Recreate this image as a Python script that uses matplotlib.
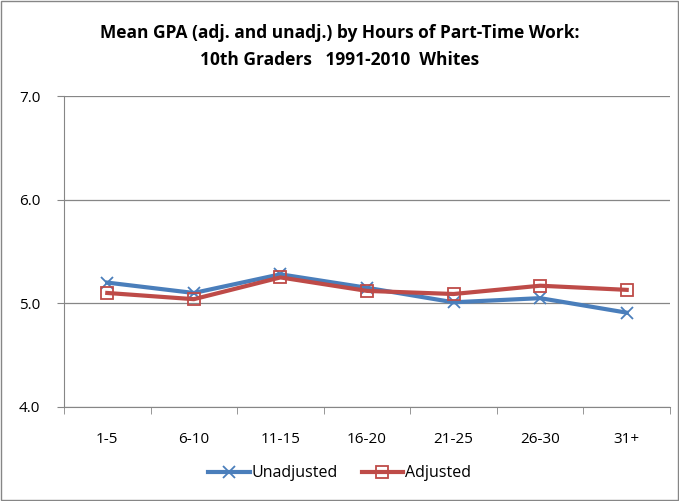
import numpy as np
import matplotlib.pyplot as plt
from matplotlib.patches import Rectangle

# Data
categories = ['1-5', '6-10', '11-15', '16-20', '21-25', '26-30', '31+']
unadjusted = [5.20, 5.10, 5.28, 5.15, 5.01, 5.05, 4.91]
adjusted = [5.10, 5.04, 5.25, 5.12, 5.09, 5.17, 5.13]
yticks = [4.0, 5.0, 6.0, 7.0]

plt.rcParams['font.family'] = ['Open Sans', 'DejaVu Sans']

fig = plt.figure(figsize=(6.79, 5.01), dpi=100)
ax = fig.add_axes([64/679, 94/501, 606/679, 311/501])

x = np.arange(len(categories))
blue = '#4a7ebb'
red = '#be4b48'
ax.plot(x, unadjusted, color=blue, lw=3, marker='x', ms=9, mew=1.3,
        label='Unadjusted', zorder=3)
ax.plot(x, adjusted, color=red, lw=3, marker='s', ms=9, mew=1.3,
        mfc='none', mec=red, label='Adjusted', zorder=4)

ax.set_xlim(-0.5, len(categories) - 0.5)
ax.set_ylim(4.0, 7.0)
ax.set_yticks(yticks)
ax.set_yticklabels([f'{v:.1f}' for v in yticks], fontsize=11)
ax.set_xticks(x)
ax.set_xticklabels(categories, fontsize=11)
ax.tick_params(axis='x', length=0, pad=18)
ax.set_xticks(np.arange(-0.5, len(categories)), minor=True)
ax.tick_params(axis='x', which='minor', length=5, color='#868686', direction='out')
ax.tick_params(axis='y', length=5, color='#868686', direction='out', pad=12)

ax.grid(axis='y', color='#868686', lw=0.9)
ax.set_axisbelow(True)
for s in ['top', 'right']:
    ax.spines[s].set_visible(False)
for s in ['left', 'bottom']:
    ax.spines[s].set_color('#868686')

fig.suptitle('Mean GPA (adj. and unadj.) by Hours of Part-Time Work:\n'
             '10th Graders   1991-2010  Whites',
             fontsize=12.5, fontweight='bold', y=0.907, va='center',
             linespacing=1.6)

fig.legend(loc='center', bbox_to_anchor=(0.5, 0.055), ncol=2, frameon=False,
           fontsize=11.5, handlelength=2.6, columnspacing=1.5, handletextpad=0.1)

fig.patches.append(Rectangle((0.002, 0.002), 0.996, 0.996, transform=fig.transFigure,
                             fill=False, ec='#868686', lw=1))

plt.savefig('out.png', dpi=100)
